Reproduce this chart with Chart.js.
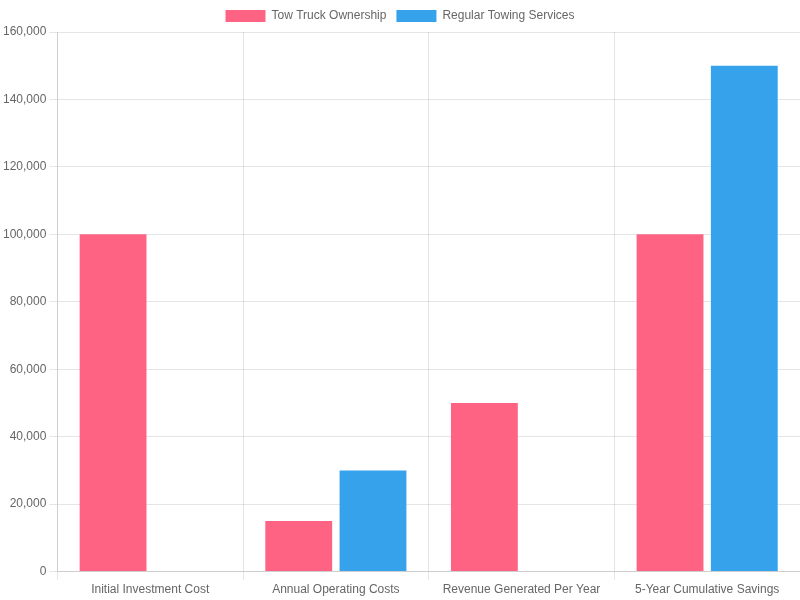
<!DOCTYPE html>
<html>
<head>
<meta charset="utf-8">
<script src="https://cdn.jsdelivr.net/npm/chart.js"></script>
<style>
html,body{margin:0;padding:0;background:#fff;}
#wrap{width:800px;height:600px;}
</style>
</head>
<body>
<div id="wrap"><canvas id="c"></canvas></div>
<script>
const categories = ["Initial Investment Cost", "Annual Operating Costs", "Revenue Generated Per Year", "5-Year Cumulative Savings"];
const towTruckOwnership = [100000, 15000, 50000, 100000];
const regularTowingServices = [0, 30000, 0, 150000];

new Chart(document.getElementById('c'), {
  type: 'bar',
  data: {
    labels: categories,
    datasets: [
      { label: 'Tow Truck Ownership', data: towTruckOwnership, backgroundColor: '#FF6384', borderColor: '#FF6384' },
      { label: 'Regular Towing Services', data: regularTowingServices, backgroundColor: '#36A2EB', borderColor: '#36A2EB' }
    ]
  },
  options: {
    responsive: true,
    maintainAspectRatio: false,
    animation: false,
    scales: {
      y: { beginAtZero: true }
    }
  }
});
</script>
</body>
</html>
